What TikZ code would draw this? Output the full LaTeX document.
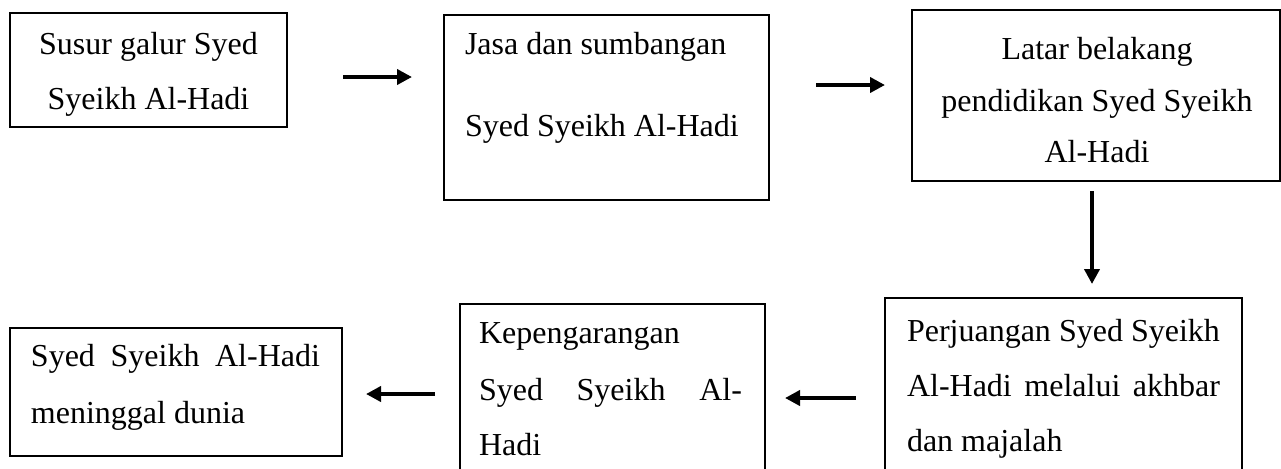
\documentclass[tikz,border=0pt]{standalone}
\usepackage{fontspec}
\setmainfont{Liberation Serif}
\usetikzlibrary{arrows.meta}
\begin{document}
\begin{tikzpicture}[x=0.5pt,y=-0.5pt,
  box/.style 2 args={draw, line width=0.6pt, inner sep=0pt, outer sep=0pt, anchor=north west,
    minimum width=#1*0.5pt, minimum height=#2*0.5pt},
  txt/.style={inner sep=0pt, outer sep=0pt, font=\fontsize{16}{16}\selectfont},
  arr/.style={line width=1.9pt, -{Triangle[length=7.5pt,width=7.5pt]}}]
\useasboundingbox (0,0) rectangle (1281,468);
\clip (0,0) rectangle (1281,468);
% boxes
\node[box={277}{114}] (b1) at (10,13) {};
\node[box={325}{185}] (b2) at (444,15) {};
\node[box={368}{171}] (b3) at (912,10) {};
\node[box={357}{200}] (b4) at (885,298) {};
\node[box={305}{200}] (b5) at (460,304) {};
\node[box={332}{128}] (b6) at (10,328) {};
% texts
\node[txt, anchor=base] (t1a) at (148.5,54.3) {Susur galur Syed};
\node[txt, anchor=base] (t1b) at (148.5,109.3) {Syeikh Al-Hadi};
\node[txt, anchor=base west] (t2a) at (465,54.3) {Jasa dan sumbangan};
\node[txt, anchor=base west] (t2b) at (465,136.7) {Syed Syeikh Al-Hadi};
\node[txt, anchor=base] (t3a) at (1097,59.3) {Latar belakang};
\node[txt, anchor=base] (t3b) at (1097,111) {pendidikan Syed Syeikh};
\node[txt, anchor=base] (t3c) at (1097,162.7) {Al-Hadi};
\node[txt, anchor=base west] (t4a) at (907,341.7) {\hbox to 156.5pt{Perjuangan\hfill Syed\hfill Syeikh}};
\node[txt, anchor=base west] (t4b) at (907,396.7) {\hbox to 156.5pt{Al-Hadi\hfill melalui\hfill akhbar}};
\node[txt, anchor=base west] (t4c) at (907,451.7) {dan majalah};
\node[txt, anchor=base west] (t5a) at (479,343.3) {Kepengarangan};
\node[txt, anchor=base west] (t5b) at (479,400) {\hbox to 131.5pt{Syed\hfill Syeikh\hfill Al-}};
\node[txt, anchor=base west] (t5c) at (479,455) {Hadi};
\node[txt, anchor=base west] (t6a) at (31,366.7) {\hbox to 144.5pt{Syed\hfill Syeikh\hfill Al-Hadi}};
\node[txt, anchor=base west] (t6b) at (31,423.3) {meninggal dunia};
% arrow end points
\coordinate (a1s) at (343,77);  \coordinate (a1e) at (412,77);
\coordinate (a2s) at (816,85);  \coordinate (a2e) at (885,85);
\coordinate (a3s) at (1092,191); \coordinate (a3e) at (1092,284);
\coordinate (a4s) at (856,398); \coordinate (a4e) at (785,398);
\coordinate (a5s) at (435,394); \coordinate (a5e) at (366,394);
\draw[arr] (a1s) -- (a1e);
\draw[arr] (a2s) -- (a2e);
\draw[arr] (a3s) -- (a3e);
\draw[arr] (a4s) -- (a4e);
\draw[arr] (a5s) -- (a5e);
\end{tikzpicture}
\end{document}
